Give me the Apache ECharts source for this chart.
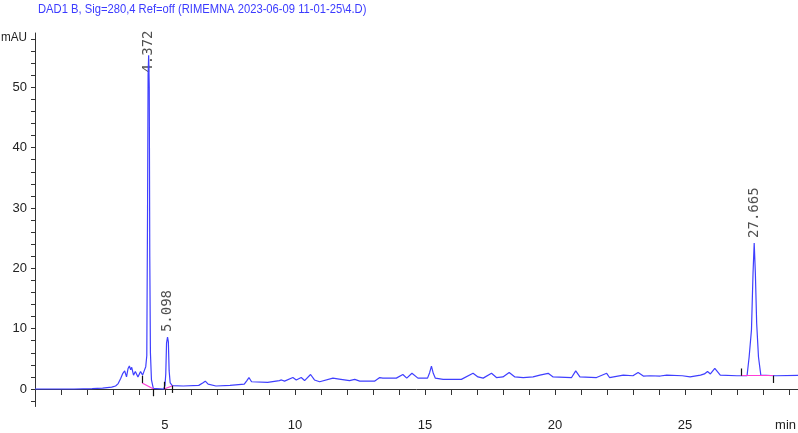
<!DOCTYPE html>
<html>
<head>
<meta charset="utf-8">
<script src="https://cdn.jsdelivr.net/npm/echarts@6/dist/echarts.min.js"></script>
<style>
    html, body { margin: 0; padding: 0; background: #fff; }
    #main { width: 798px; height: 433px; }
</style>
</head>
<body>
<div id="main"></div>
<script>
// DAD1 B trace, time (min) / absorbance (mAU)
var signalTime = [0, 1.5, 2.2, 2.6, 2.95, 3.1, 3.2, 3.3, 3.38, 3.45, 3.52, 3.58, 3.63, 3.68, 3.72, 3.79, 3.86, 3.96, 4.06, 4.14,
    4.2, 4.26, 4.3, 4.33, 4.35, 4.372, 4.395, 4.415, 4.44, 4.48, 4.55, 4.62, 4.95, 5.0, 5.03, 5.06, 5.098, 5.13, 5.16, 5.2,
    5.28, 5.7, 6.3, 6.45, 6.55, 6.66, 6.96, 7.5, 8.05, 8.15, 8.23, 8.33, 8.95, 9.4, 9.48, 9.6, 9.92, 10.05, 10.24, 10.37,
    10.6, 10.75, 10.95, 11.46, 11.7, 12.1, 12.3, 12.49, 13.06, 13.26, 13.38, 13.9, 14.15, 14.3, 14.5, 14.73, 15.1, 15.18, 15.25, 15.32,
    15.4, 15.7, 16.4, 16.85, 17.04, 17.24, 17.56, 17.75, 18.0, 18.24, 18.46, 18.78, 19.16, 19.42, 19.74, 19.93, 20.64, 20.8, 20.96, 21.6,
    21.99, 22.1, 22.63, 23.0, 23.2, 23.4, 23.66, 24.05, 24.3, 24.9, 25.2, 25.6, 25.75, 25.87, 25.98, 26.15, 26.36, 27.0, 27.39, 27.47,
    27.56, 27.62, 27.665, 27.71, 27.76, 27.83, 27.92, 28.5, 29.35];
var signalMAU = [0, 0, 0.05, 0.15, 0.3, 0.5, 0.9, 1.8, 2.6, 3.0, 2.0, 3.4, 3.8, 3.2, 3.6, 2.3, 2.9, 2.0, 2.9, 2.3,
    3.0, 3.7, 5.5, 30, 52, 55.3, 50, 22, 6, 1.5, 0.1, 0, 0, 0.6, 2.5, 7.6, 8.6, 7.8, 3.0, 1.0,
    0.55, 0.5, 0.6, 1.0, 1.3, 0.8, 0.5, 0.6, 0.8, 1.4, 1.9, 1.2, 1.1, 1.4, 1.5, 1.3, 1.9, 1.5, 1.9, 1.4,
    2.4, 1.5, 1.2, 1.8, 1.65, 1.4, 1.6, 1.3, 1.3, 1.9, 1.8, 1.8, 2.4, 1.8, 2.6, 1.8, 1.8, 2.7, 3.8, 2.6,
    1.8, 1.6, 1.6, 2.6, 2.0, 1.8, 2.6, 1.9, 2.0, 2.75, 2.0, 1.9, 2.0, 2.3, 2.6, 2.0, 1.9, 3.0, 2.0, 1.9,
    2.6, 1.9, 2.3, 2.2, 2.75, 2.15, 2.2, 2.15, 2.3, 2.2, 2.0, 2.3, 2.5, 2.9, 2.5, 3.4, 2.3, 2.2, 2.2, 5.3,
    9.8, 19.2, 24.2, 19.2, 10.9, 5.3, 2.3, 2.2, 2.25];

// integrated peaks
var peakTimes = [4.372, 5.098, 27.665];
var peakLabelAt = [51.6, 8.6, 24.2];
var peakStart = [[4.12, 1.0], [4.97, 0.0], [27.15, 2.2]];
var peakEnd = [[4.56, 0.0], [5.29, 0.55], [28.4, 2.2]];

var yLabelValues = [0, 10, 20, 30, 40, 50];
var yTickValues = [-2, 0, 2, 4, 6, 8, 10, 12, 14, 16, 18, 20, 22, 24, 26, 28, 30, 32, 34, 36, 38, 40, 42, 44, 46, 48, 50, 52, 54, 56, 58];
var xLabelValues = [5, 10, 15, 20, 25];
var xTickValues = [1, 2, 3, 4, 5, 6, 7, 8, 9, 10, 11, 12, 13, 14, 15, 16, 17, 18, 19, 20, 21, 22, 23, 24, 25, 26, 27, 28, 29];

var sansFont = '"Liberation Sans", Arial, sans-serif';

var traceData = [];
for (var i = 0; i < signalTime.length; i++) {
    traceData.push([signalTime[i], signalMAU[i]]);
}

var markLines = [];
for (var j = 0; j < peakStart.length; j++) {
    // baseline drawn under the peak
    markLines.push([
        {coord: peakStart[j], lineStyle: {color: '#ff3dd8', width: 1.2, type: 'solid'}},
        {coord: peakEnd[j]}
    ]);
    // start / end tick marks
    markLines.push([
        {coord: peakStart[j], lineStyle: {color: '#111', width: 1.2, type: 'solid'}},
        {coord: [peakStart[j][0], peakStart[j][1] + 1.2]}
    ]);
    markLines.push([
        {coord: peakEnd[j], lineStyle: {color: '#111', width: 1.2, type: 'solid'}},
        {coord: [peakEnd[j][0], peakEnd[j][1] - 1.2]}
    ]);
}

var labelData = [];
for (var k = 0; k < peakTimes.length; k++) {
    labelData.push([peakTimes[k], peakLabelAt[k]]);
}

var option = {
    animation: false,
    backgroundColor: '#fff',
    grid: {
        left: 35,
        right: 0,
        top: 33,
        bottom: 26.5
    },
    xAxis: {
        type: 'value',
        min: 0,
        max: 29.35,
        axisLine: {lineStyle: {color: '#333', width: 1}},
        axisTick: {show: true, length: 6, customValues: xTickValues, lineStyle: {color: '#333'}},
        axisLabel: {
            customValues: xLabelValues,
            margin: 12,
            color: '#222',
            fontSize: 13,
            fontFamily: sansFont
        },
        splitLine: {show: false}
    },
    yAxis: {
        type: 'value',
        min: -2.9,
        max: 59,
        axisLine: {show: true, lineStyle: {color: '#333', width: 1}},
        axisTick: {show: true, length: 4, customValues: yTickValues, lineStyle: {color: '#333'}},
        axisLabel: {
            customValues: yLabelValues,
            margin: 8,
            color: '#222',
            fontSize: 13,
            fontFamily: sansFont
        },
        splitLine: {show: false}
    },
    graphic: [
        {
            // title, squeezed to look like a narrow font
            type: 'text', left: 38, top: 2, scaleX: 0.83,
            style: {
                text: 'DAD1 B, Sig=280,4 Ref=off (RIMEMNA 2023-06-09 11-01-25\\4.D)',
                fill: '#3b3bff',
                font: '13.5px ' + sansFont
            }
        },
        {
            type: 'text', left: 1, top: 31, scaleX: 0.9,
            style: {text: 'mAU', fill: '#222', font: '13px ' + sansFont}
        },
        {
            type: 'text', right: 2, top: 419,
            style: {text: 'min', fill: '#222', font: '13px ' + sansFont}
        }
    ],
    series: [
        {
            name: 'DAD1 B',
            type: 'line',
            data: traceData,
            showSymbol: false,
            symbol: 'none',
            lineStyle: {color: '#3f3fff', width: 1.2},
            silent: true,
            markLine: {
                silent: true,
                symbol: ['none', 'none'],
                label: {show: false},
                data: markLines
            }
        },
        {
            name: 'peaks',
            type: 'scatter',
            data: labelData,
            symbolSize: 0,
            silent: true,
            label: {
                show: true,
                position: 'top',
                distance: 5,
                rotate: 90,
                align: 'left',
                verticalAlign: 'middle',
                color: '#222',
                fontSize: 14,
                fontFamily: '"DejaVu Sans Mono", "Liberation Mono", monospace',
                formatter: function (p) {
                    return p.value[0].toFixed(3);
                }
            }
        }
    ]
};

var chromChart = echarts.init(document.getElementById('main'));
chromChart.setOption(option);
</script>
</body>
</html>
